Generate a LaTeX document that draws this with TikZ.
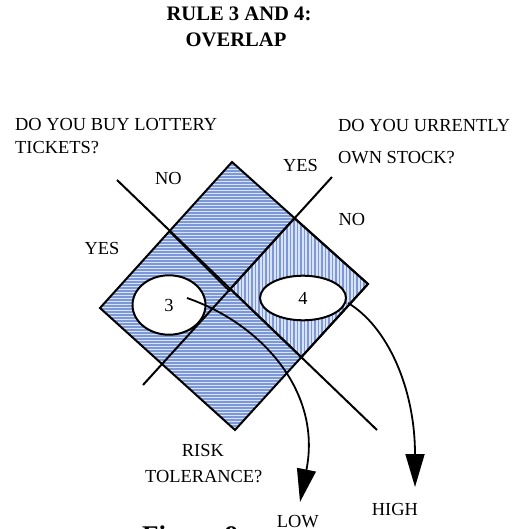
\documentclass[tikz,border=0pt]{standalone}
\usepackage{fontspec}
\setmainfont{Liberation Serif}
\usetikzlibrary{arrows.meta,shapes.geometric}
\definecolor{stripelight}{HTML}{D9E3F7}
\definecolor{stripedark}{HTML}{7C98D6}
\tikzset{
  body/.style={inner sep=0pt,anchor=base west,font=\fontsize{18.4pt}{22pt}\selectfont},
  ttl/.style={inner sep=0pt,anchor=base,font=\fontsize{20.6pt}{24pt}\selectfont\bfseries},
  edge/.style={line width=2pt,line join=miter},
  oval/.style={ellipse,draw,line width=2pt,fill=white,inner sep=0pt,font=\fontsize{18.4pt}{22pt}\selectfont},
  flow/.style={line width=1.8pt,-{Triangle[length=33pt,width=19pt]}}
}
\begin{document}
\begin{tikzpicture}[x=1pt,y=-1pt]
\useasboundingbox (0,0) rectangle (522,529);
\clip (0,0) rectangle (522,529);
% key points
\coordinate (T) at (232,162);
\coordinate (L) at (100,308);
\coordinate (R) at (368,284);
\coordinate (B) at (235,430);
\coordinate (C) at (230.3,288.9);
\coordinate (S1) at (294.4,218.2);
\coordinate (L1) at (301.3,357.2);
\coordinate (Q) at (169.8,231.8);
\coordinate (Qe) at (230,291.6);
\coordinate (LA) at (117,180);
\coordinate (LB) at (377,430);
\coordinate (SA) at (332,177);
\coordinate (SB) at (143,385);
% horizontal stripes on whole diamond
\begin{scope}
  \clip (T) -- (R) -- (B) -- (L) -- cycle;
  \fill[stripelight] (T) -- (R) -- (B) -- (L) -- cycle;
  \foreach \yy in {150,153,...,440} {
    \draw[stripedark,line width=1.2pt] (90,\yy) -- (380,\yy);
  }
\end{scope}
% vertical stripes on right quadrant
\begin{scope}
  \clip (S1) -- (R) -- (L1) -- (C) -- cycle;
  \fill[stripelight] (S1) -- (R) -- (L1) -- (C) -- cycle;
  \foreach \xx in {224,227.5,...,372} {
    \draw[stripedark,line width=1.2pt] (\xx,210) -- (\xx,365);
  }
\end{scope}
% outlines
\draw[edge] (T) -- (R) -- (B) -- (L) -- cycle;
\draw[edge] (S1) -- (R) -- (L1) -- (C) -- cycle;
\draw[edge] (LA) -- (LB);
\draw[edge] (SA) -- (SB);
\draw[line width=1.6pt] (Q) -- (Qe);
% ovals
\node[oval,minimum width=73pt,minimum height=59.4pt] (e3) at (169,305) {3};
\node[oval,minimum width=86pt,minimum height=44.6pt] (e4) at (303,298) {4};
% texts
\node[ttl] (t1) at (239,20.7) {RULE 3 AND 4:};
\node[ttl] (t2) at (236,46.7) {OVERLAP};
\node[body] (q1a) at (15,130.7) {DO YOU BUY LOTTERY};
\node[body] (q1b) at (15,153.3) {TICKETS?};
\node[body] (q2a) at (338,131.7) {DO YOU URRENTLY};
\node[body] (q2b) at (338,164) {OWN STOCK?};
\node[body] (yes1) at (283,171.7) {YES};
\node[body] (no1) at (155,185) {NO};
\node[body] (yes2) at (84.5,254) {YES};
\node[body] (no2) at (338.3,225.7) {NO};
\node[body] (risk) at (181.7,456) {RISK};
\node[body] (tol) at (145,482.7) {TOLERANCE?};
\node[body] (low) at (276.7,527) {LOW};
\node[body] (high) at (371.7,515) {HIGH};
\node[inner sep=0pt,anchor=base west,font=\fontsize{27pt}{30pt}\selectfont\bfseries] (fig) at (142,544) {Figure 9};
% flows
\coordinate (s3) at (187,298);
\coordinate (s4) at (348,303);
\coordinate (tipl) at (300,502);
\coordinate (tiph) at (415,487);
\draw[flow] (s3) .. controls (262,324) and (322,392) .. (tipl);
\draw[flow] (s4) .. controls (386.7,326) and (415,387) .. (tiph);
\end{tikzpicture}
\end{document}
